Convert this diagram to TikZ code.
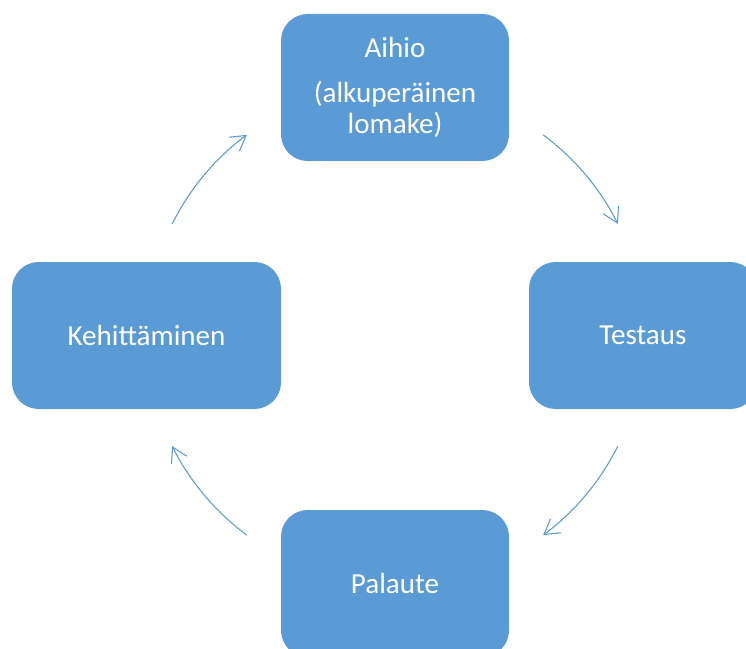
\documentclass[tikz,border=0pt]{standalone}
\usepackage{fontspec}
\setmainfont{Carlito}
\usepackage{tikz}
\usetikzlibrary{arrows.meta}
\definecolor{kaari}{HTML}{5B9BD5}
\tikzset{vaihe/.style = {fill=kaari, rounded corners=20pt, text=white, align=center,
                         inner sep=0, minimum width=171pt, minimum height=110.25pt,
                         font=\fontsize{21.8}{23}\selectfont}}
\tikzset{kierto/.style = {draw=kaari, line width=0.8pt,
                          -{Straight Barb[length=11pt, width=13pt, line width=0.8pt]}}}

\begin{document}
\begin{tikzpicture}[x=0.75pt, y=-0.75pt]
      \useasboundingbox (0, 0) rectangle (746, 649);
      \clip (0, 0) rectangle (746, 649);

      \node [vaihe] (aihio) at (395, 87.5) {Aihio\\[11pt](alkuperäinen\\lomake)};
      \node [vaihe] (testaus) at (643, 335.5) {Testaus};
      \node [vaihe] (palaute) at (395, 583.5) {Palaute};
      \node [vaihe, minimum width=201.75pt] (kehitys) at (146.5, 335.5) {Kehittäminen};

      \coordinate (keski) at (395, 335);
      \draw [kierto] ([shift={(-53.5:249)}]keski) arc [start angle=-53.5, end angle=-26.5, radius=249];
      \draw [kierto] ([shift={(26.5:249)}]keski) arc [start angle=26.5, end angle=53.5, radius=249];
      \draw [kierto] ([shift={(126.5:249)}]keski) arc [start angle=126.5, end angle=153.5, radius=249];
      \draw [kierto] ([shift={(206.5:249)}]keski) arc [start angle=206.5, end angle=233.5, radius=249];
    \end{tikzpicture}
\end{document}
